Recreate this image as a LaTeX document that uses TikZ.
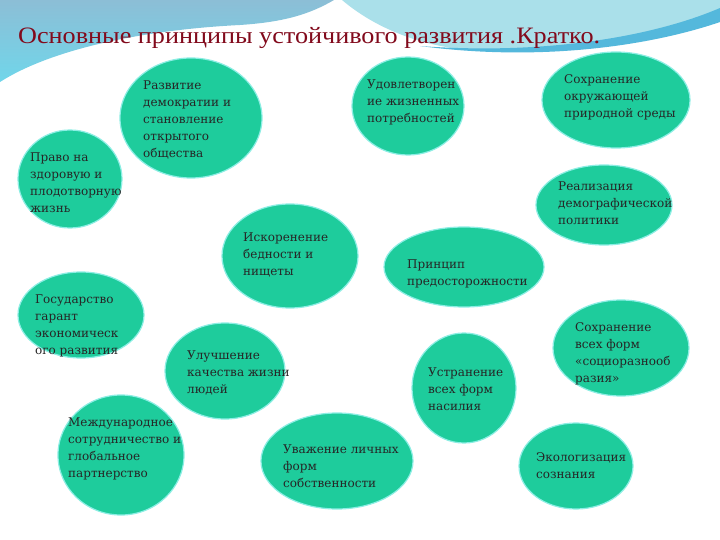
\documentclass[tikz,border=0pt]{standalone}
\usepackage{fontspec}
\setmainfont{DejaVu Serif}
\newfontfamily\titlefont{Liberation Serif}
\usetikzlibrary{shapes.geometric}
\definecolor{bubble}{RGB}{30,204,156}
\definecolor{halo}{RGB}{140,238,228}
\definecolor{titlered}{RGB}{130,10,28}
\definecolor{steelA}{RGB}{140,190,214}
\definecolor{steelB}{RGB}{112,214,234}
\definecolor{bowl}{RGB}{170,224,234}
\definecolor{band}{RGB}{84,184,220}
\tikzset{
  bub/.style={ellipse, fill=bubble, draw=halo, line width=1.2pt, inner sep=0pt},
  lbl/.style={anchor=north west, align=left, inner sep=0pt, font=\fontsize{12}{17}\selectfont, text=black!85}
}
\begin{document}
\begin{tikzpicture}[x=1pt,y=-1pt]
\useasboundingbox (0,0) rectangle (720,540);
\fill[white] (0,0) rectangle (720,540);
% background waves
\shade[top color=steelA, bottom color=steelB] (0,0) -- (334,0) .. controls (310,14) and (285,22) .. (240,25) .. controls (140,30) and (50,50) .. (0,82) -- cycle;
\fill[bowl] (342,0) -- (720,0) -- (720,9) .. controls (650,38) and (550,54) .. (470,50) .. controls (420,46) and (375,28) .. (342,0) -- cycle;
\fill[band] (420,46) .. controls (540,62) and (650,46) .. (720,22) -- (720,8) .. controls (650,38) and (540,55) .. (420,46) -- cycle;
% title
\node (title) [anchor=base west, inner sep=0pt, text=titlered, font=\titlefont\fontsize{23.5}{26}\selectfont] at (18,44) {\resizebox{582pt}{\height}{Основные принципы устойчивого развития .Кратко.}};
% bubbles
\node (e1) [bub, minimum width=142pt, minimum height=120pt] at (191,118) {};
\node (e2) [bub, minimum width=104pt, minimum height=98pt] at (70,179) {};
\node (e3) [bub, minimum width=112pt, minimum height=98pt] at (408,106) {};
\node (e4) [bub, minimum width=148pt, minimum height=96pt] at (616,100) {};
\node (e5) [bub, minimum width=136pt, minimum height=80pt] at (604,205) {};
\node (e6) [bub, minimum width=136pt, minimum height=104pt] at (290,256) {};
\node (e7) [bub, minimum width=126pt, minimum height=86pt] at (81,315) {};
\node (e8) [bub, minimum width=120pt, minimum height=96pt] at (225,371) {};
\node (e9) [bub, minimum width=126pt, minimum height=120pt] at (121,455) {};
\node (e10) [bub, minimum width=152pt, minimum height=96pt] at (337,461) {};
\node (e11) [bub, minimum width=160pt, minimum height=80pt] at (464,267) {};
\node (e12) [bub, minimum width=136pt, minimum height=96pt] at (621,348) {};
\node (e13) [bub, minimum width=104pt, minimum height=110pt] at (464,388) {};
\node (e14) [bub, minimum width=114pt, minimum height=86pt] at (576,466) {};
% labels
\node (t1) [lbl] at (143,81) {Развитие\\демократии и\\становление\\открытого\\общества};
\node (t2) [lbl] at (30,153) {Право на\\здоровую и\\плодотворную\\жизнь};
\node (t3) [lbl] at (367,80) {Удовлетворен\\ие жизненных\\потребностей};
\node (t4) [lbl] at (564,74) {Сохранение\\окружающей\\природной среды};
\node (t5) [lbl] at (558,182) {Реализация\\демографической\\политики};
\node (t6) [lbl] at (243,233) {Искоренение\\бедности и\\нищеты};
\node (t7) [lbl] at (35,295) {Государство\\гарант\\экономическ\\ого развития};
\node (t8) [lbl] at (187,351) {Улучшение\\качества жизни\\людей};
\node (t9) [lbl] at (68,418) {Международное\\сотрудничество и\\глобальное\\партнерство};
\node (t10) [lbl] at (283,445) {Уважение личных\\форм\\собственности};
\node (t11) [lbl] at (407,260) {Принцип\\предосторожности};
\node (t12) [lbl] at (575,322) {Сохранение\\всех форм\\«социоразнооб\\разия»};
\node (t13) [lbl] at (428,368) {Устранение\\всех форм\\насилия};
\node (t14) [lbl] at (536,452) {Экологизация\\сознания};
\end{tikzpicture}
\end{document}
